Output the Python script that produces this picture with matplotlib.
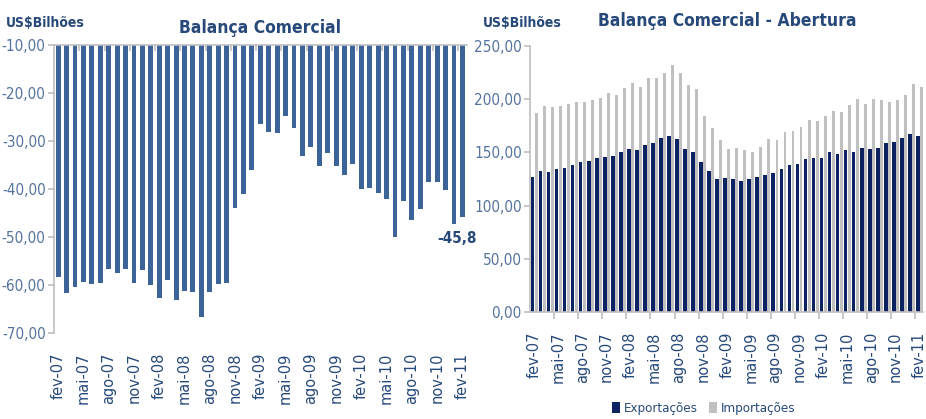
import numpy as np
import matplotlib.pyplot as plt

plt.rcParams['font.family'] = ['DejaVu Sans']
plt.rcParams['font.stretch'] = 'condensed'

# saldo 12 meses (US$ bilhoes), fev-07 .. fev-11
saldo = [-58.3, -61.7, -60.5, -59.4, -59.8, -59.5, -56.7, -57.4, -56.7, -59.5,
         -56.9, -60.0, -62.8, -59.0, -63.1, -61.2, -61.5, -66.6, -61.5, -59.7,
         -59.5, -44.0, -41.1, -36.0, -26.5, -28.1, -28.4, -24.8, -27.2, -33.1,
         -31.2, -35.2, -32.4, -35.3, -37.1, -34.8, -39.9, -39.7, -40.8, -42.0,
         -50.1, -42.4, -46.5, -44.2, -38.5, -38.5, -40.3, -47.2, -45.8]
exportacoes = [127.1, 132.8, 131.8, 134.1, 135.6, 137.8, 140.6, 141.6, 144.4, 145.3,
               146.5, 150.0, 152.8, 151.9, 156.8, 158.4, 163.4, 165.3, 162.5, 152.8,
               150.0, 140.6, 132.2, 125.3, 126.2, 125.3, 123.4, 125.3, 127.1, 129.0,
               130.3, 134.1, 137.8, 138.7, 143.4, 144.4, 144.4, 150.0, 148.1, 151.9,
               150.0, 153.7, 152.8, 153.7, 158.4, 159.4, 163.4, 167.2, 165.3]
importacoes = [186.6, 193.7, 192.2, 193.7, 195.6, 196.9, 196.9, 198.7, 200.6, 205.3,
               203.4, 210.0, 214.7, 210.9, 219.4, 219.4, 224.1, 231.8, 224.1, 213.1,
               209.3, 184.3, 173.1, 161.5, 153.1, 153.7, 151.9, 150.0, 155.0, 162.5,
               161.5, 169.0, 170.0, 174.0, 180.3, 179.6, 184.3, 189.0, 188.1, 194.1,
               199.7, 195.6, 199.7, 198.7, 196.9, 198.7, 203.4, 213.7, 210.9]
rotulos = ['fev-07', 'mai-07', 'ago-07', 'nov-07', 'fev-08', 'mai-08', 'ago-08',
           'nov-08', 'fev-09', 'mai-09', 'ago-09', 'nov-09', 'fev-10', 'mai-10',
           'ago-10', 'nov-10', 'fev-11']

azul_txt = '#27497a'
azul_tick = '#5573a0'
cinza = '#bfbfbf'

x = np.arange(len(saldo))
fig = plt.figure(figsize=(9.26, 4.19), dpi=100)
virgula = plt.FuncFormatter(lambda v, p: ('%.2f' % v).replace('.', ','))


def style_axes(ax):
    for s in ax.spines.values():
        s.set_color(cinza)
        s.set_linewidth(1.2)
    ax.set_xlim(-0.5, len(saldo) - 0.5)
    ax.set_xticks(x[::3])
    ax.set_xticklabels(rotulos, rotation=90, fontsize=10.5, color=azul_txt,
                       fontstretch='normal')
    ax.set_xticks(np.arange(-0.5, len(saldo), 3)[1:], minor=True)
    ax.yaxis.set_major_formatter(virgula)
    ax.tick_params(axis='y', colors=cinza, labelcolor=azul_tick, labelsize=11,
                   length=4, width=1.2, pad=2)


# --- esquerda: saldo
ax1 = fig.add_axes([0.0583, 0.2053, 0.4456, 0.6873])
ax1.bar(x, saldo, width=0.58, color='#3c6499')
ax1.set_ylim(-70, -10)
ax1.set_yticks(np.arange(-70, -9, 10))
style_axes(ax1)
ax1.spines['right'].set_visible(False)
ax1.spines['bottom'].set_visible(False)
ax1.tick_params(axis='x', which='major', length=0, pad=14)
ax1.tick_params(axis='x', which='minor', top=True, bottom=False, length=4,
                width=1.2, colors=cinza, direction='in')
ax1.annotate(('%.1f' % saldo[-1]).replace('.', ','), (x[-1], saldo[-1]),
             xytext=(-4, -10), textcoords='offset points', ha='center', va='top',
             fontsize=11, fontweight='bold', color=azul_txt)
ax1.set_title('Balança Comercial', fontsize=12.5, fontweight='bold',
              color=azul_txt, pad=9)
fig.text(0.006, 0.945, 'US\\$Bilhões', fontsize=10, fontweight='bold',
         color=azul_txt, va='center')

# --- direita: abertura
ax2 = fig.add_axes([0.5724, 0.2547, 0.4249, 0.6362])
ax2.bar(x + 0.25, importacoes, width=0.36, color='#c0c0c0', label='Importações')
ax2.bar(x - 0.2, exportacoes, width=0.46, color='#0c2262', label='Exportações')
ax2.set_ylim(0, 250)
ax2.set_yticks(np.arange(0, 251, 50))
style_axes(ax2)
ax2.spines['right'].set_visible(False)
ax2.spines['top'].set_visible(False)
ax2.tick_params(axis='x', which='major', length=0, pad=14)
ax2.tick_params(axis='x', which='minor', length=5, width=1.2, colors=cinza)
ax2.set_title('Balança Comercial - Abertura', fontsize=12.5, fontweight='bold',
              color=azul_txt, pad=14)
fig.text(0.522, 0.945, 'US\\$Bilhões', fontsize=10, fontweight='bold',
         color=azul_txt, va='center')

h, l = ax2.get_legend_handles_labels()
leg = fig.legend(h[::-1], l[::-1], loc='center', bbox_to_anchor=(0.76, 0.025),
                 ncol=2, frameon=False, fontsize=9.5, handlelength=0.6,
                 handleheight=0.9, handletextpad=0.3, columnspacing=0.8)
for t in leg.get_texts():
    t.set_color(azul_txt)

fig.savefig('out.png', dpi=100)
